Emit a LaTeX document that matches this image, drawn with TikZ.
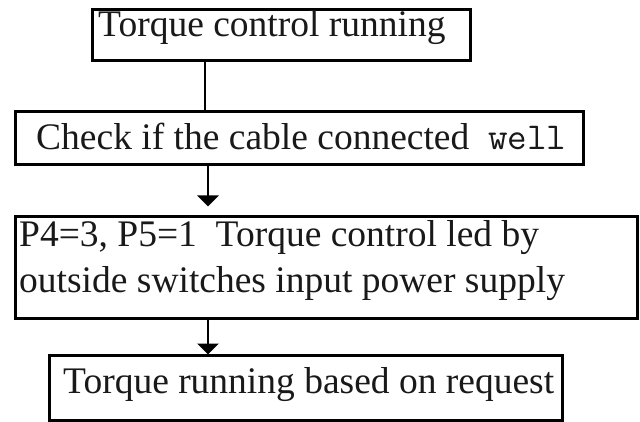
\documentclass[tikz,border=0pt]{standalone}
\usepackage{fontspec}
\setmainfont{Liberation Serif}
\usetikzlibrary{arrows.meta}
\begin{document}
\begin{tikzpicture}[x=1pt,y=-1pt,
  flowbox/.style={draw=black, line width=3pt, rectangle, inner sep=0pt},
  label/.style={anchor=base west, inner sep=0pt, text=black!90, font=\fontsize{37.5}{45}\selectfont},
  link/.style={draw=black, line width=2.2pt},
  flowarrow/.style={link, -{Triangle[width=21pt,length=11pt]}}]
  \useasboundingbox (0,0) rectangle (640,422);

  % boxes
  \node[flowbox, minimum width=378pt, minimum height=51pt] (b1) at (281,35.5) {};
  \node[flowbox, minimum width=568pt, minimum height=53pt] (b2) at (299,138.5) {};
  \node[flowbox, minimum width=622pt, minimum height=101pt] (b3) at (326,267.5) {};
  \node[flowbox, minimum width=513pt, minimum height=65pt] (b4) at (305.5,387.5) {};

  % texts
  \node[label] (t1) at (98,37) {Torque control running};
  \node[label] (t2) at (36,150) {Check if the cable connected\ \ \texttt{\fontsize{38}{45}\selectfont well}};
  \node[label] (t3a) at (19,247) {P4=3, P5=1\ \ Torque control led by};
  \node[label] (t3b) at (19,292) {outside switches input power supply};
  \node[label] (t4) at (63,393) {Torque running based on request};

  % connectors (canvas y points up, so a positive yshift lifts the tip)
  \draw[link] (b1.south -| 205,0) -- (b2.north -| 205,0);
  \coordinate (e2) at ([yshift=9pt]b3.north -| 208,0);
  \draw[flowarrow] (b2.south -| 208,0) -- (e2);
  \coordinate (e3) at ([yshift=-1pt]b4.north -| 208,0);
  \draw[flowarrow] (b3.south -| 208,0) -- (e3);
\end{tikzpicture}
\end{document}
